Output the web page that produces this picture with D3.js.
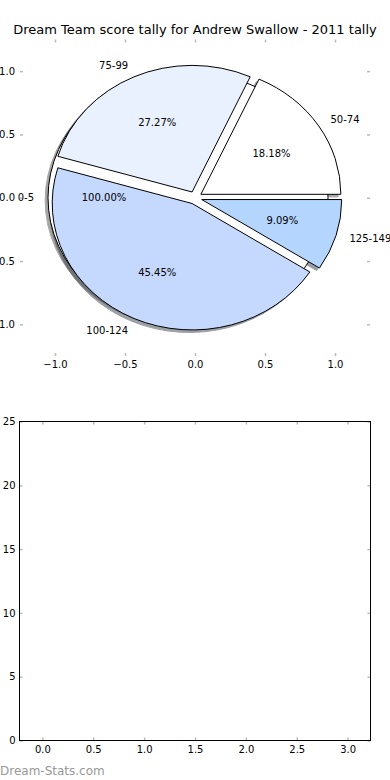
<!DOCTYPE html>
<html>
<head>
<meta charset="utf-8">
<script src="https://cdn.jsdelivr.net/npm/d3@7"></script>
<style>
  body { margin: 0; background: #fff; }
  svg { display: block; font-family: "DejaVu Sans", sans-serif; }
</style>
</head>
<body>
<div id="chart"></div>
<script>
// Chart data
var title = "Dream Team score tally for Andrew Swallow - 2011 tally";
var baseLabels = ["0-5"];
var baseValues = [1];
var rangeLabels = ["50-74", "75-99", "100-124", "125-149"];
var rangeCounts = [2, 3, 5, 1];
var pieTicks = [-1.0, -0.5, 0.0, 0.5, 1.0];
var barXTicks = [0.0, 0.5, 1.0, 1.5, 2.0, 2.5, 3.0];
var barYTicks = [0, 5, 10, 15, 20, 25];

// styles
var baseColors = ["#ffffff"];
var rangeColors = ["#ffffff", "#e9f1fe", "#c5d8fd", "#b4d5fe"];
var tickColor = "#bbbbbb";

var svgWidth = 390;
var svgHeight = 780;

var svg = d3.select("#chart")
  .append("svg")
  .attr("width", svgWidth)
  .attr("height", svgHeight);

// Top axes (pie)
var xTop = d3.scaleLinear().domain([-1.25, 1.25]).range([20, 370]);
var yTop = d3.scaleLinear().domain([-1.25, 1.25]).range([356, 39.5]);
var sx = xTop(1) - xTop(0);
var sy = yTop(0) - yTop(1);

svg.append("text")
  .attr("x", 195)
  .attr("y", 34)
  .attr("text-anchor", "middle")
  .attr("font-size", 13)
  .attr("fill", "#000")
  .text(title);

function styleAxis(g) {
  g.select(".domain").remove();
  g.selectAll(".tick line").attr("stroke", tickColor).attr("stroke-width", 1.5);
  g.selectAll(".tick text").attr("fill", "#000");
  g.attr("font-family", "DejaVu Sans").attr("font-size", 10);
}

var fmt = d3.format(".1f");

svg.append("g")
  .attr("transform", "translate(0," + yTop(-1.25) + ")")
  .call(d3.axisBottom(xTop).tickValues(pieTicks).tickFormat(fmt).tickSizeInner(-3).tickSizeOuter(0).tickPadding(5))
  .call(styleAxis);
svg.append("g")
  .attr("transform", "translate(0," + yTop(1.25) + ")")
  .call(d3.axisTop(xTop).tickValues(pieTicks).tickFormat("").tickSizeInner(-3).tickSizeOuter(0))
  .call(styleAxis);
svg.append("g")
  .attr("transform", "translate(" + xTop(-1.25) + ",0)")
  .call(d3.axisLeft(yTop).tickValues(pieTicks).tickFormat(fmt).tickSizeInner(-3).tickSizeOuter(0).tickPadding(5))
  .call(styleAxis);
svg.append("g")
  .attr("transform", "translate(" + xTop(1.25) + ",0)")
  .call(d3.axisRight(yTop).tickValues(pieTicks).tickFormat("").tickSizeInner(-3).tickSizeOuter(0))
  .call(styleAxis);

// Pie layers
var shadowLayer = svg.append("g");
var wedgeLayer = svg.append("g");
var textLayer = svg.append("g").attr("font-size", 10).attr("fill", "#000");

var explode = 0.05;
var shadowOff = -0.02;
var pctFmt = d3.format(".2f");

var pie = d3.pie().sort(null)
  .startAngle(Math.PI / 2)
  .endAngle(Math.PI / 2 - 2 * Math.PI);
var arc = d3.arc().innerRadius(0).outerRadius(1);

function shade(c) {
  var rgb = d3.rgb(c);
  return d3.rgb(rgb.r * 0.3, rgb.g * 0.3, rgb.b * 0.3).toString();
}

function layout(labels, values, colors) {
  var total = d3.sum(values);
  return pie(values).map(function(a, i) {
    var theta = Math.PI / 2 - (a.startAngle + a.endAngle) / 2;
    return {
      arc: a,
      label: labels[i],
      pct: pctFmt(100 * values[i] / total) + "%",
      color: colors[i],
      theta: theta,
      cx: explode * Math.cos(theta),
      cy: explode * Math.sin(theta)
    };
  });
}

var basePie = layout(baseLabels, baseValues, baseColors);
var rangePie = layout(rangeLabels, rangeCounts, rangeColors);
var allSlices = basePie.concat(rangePie);

shadowLayer.selectAll("path")
  .data(allSlices)
  .enter()
  .append("path")
  .attr("transform", d => `translate(${xTop(d.cx + shadowOff)},${yTop(d.cy + shadowOff)}) scale(${sx},${sy})`)
  .attr("d", d => arc(d.arc))
  .attr("fill", d => shade(d.color))
  .attr("stroke", d => shade(d.color))
  .attr("vector-effect", "non-scaling-stroke")
  .attr("opacity", 0.5);

wedgeLayer.selectAll("path")
  .data(allSlices)
  .enter()
  .append("path")
  .attr("transform", d => `translate(${xTop(d.cx)},${yTop(d.cy)}) scale(${sx},${sy})`)
  .attr("d", d => arc(d.arc))
  .attr("fill", d => d.color)
  .attr("stroke", "#000")
  .attr("stroke-width", 1)
  .attr("vector-effect", "non-scaling-stroke");

// Slice labels
textLayer.selectAll(".lbl")
  .data(allSlices)
  .enter()
  .append("text")
  .attr("class", "lbl")
  .attr("x", d => xTop(d.cx + 1.1 * Math.cos(d.theta)))
  .attr("y", d => yTop(d.cy + 1.1 * Math.sin(d.theta)))
  .attr("dy", "0.35em")
  .attr("text-anchor", d => (d.cx + 1.1 * Math.cos(d.theta)) > 0 ? "start" : "end")
  .text(d => d.label);

textLayer.selectAll(".pct")
  .data(allSlices)
  .enter()
  .append("text")
  .attr("class", "pct")
  .attr("x", d => xTop(d.cx + 0.6 * Math.cos(d.theta)))
  .attr("y", d => yTop(d.cy + 0.6 * Math.sin(d.theta)))
  .attr("dy", "0.35em")
  .attr("text-anchor", "middle")
  .text(d => d.pct);

// Bottom axes (empty chart)
var xBot = d3.scaleLinear().domain([-0.225, 3.225]).range([19.5, 370.5]);
var yBot = d3.scaleLinear().domain([0, 25]).range([740.5, 421.5]);

svg.append("g")
  .attr("transform", "translate(0,740.5)")
  .call(d3.axisBottom(xBot).tickValues(barXTicks).tickFormat(fmt).tickSizeInner(-3).tickSizeOuter(0).tickPadding(5))
  .call(styleAxis);
svg.append("g")
  .attr("transform", "translate(0,421.5)")
  .call(d3.axisTop(xBot).tickValues(barXTicks).tickFormat("").tickSizeInner(-3).tickSizeOuter(0))
  .call(styleAxis);
svg.append("g")
  .attr("transform", "translate(19.5,0)")
  .call(d3.axisLeft(yBot).tickValues(barYTicks).tickFormat(d3.format("d")).tickSizeInner(-3).tickSizeOuter(0).tickPadding(4))
  .call(styleAxis);
svg.append("g")
  .attr("transform", "translate(370.5,0)")
  .call(d3.axisRight(yBot).tickValues(barYTicks).tickFormat("").tickSizeInner(-3).tickSizeOuter(0))
  .call(styleAxis);

svg.append("rect")
  .attr("x", xBot.range()[0])
  .attr("y", yBot.range()[1])
  .attr("width", xBot.range()[1] - xBot.range()[0])
  .attr("height", yBot.range()[0] - yBot.range()[1])
  .attr("fill", "none")
  .attr("stroke", "#000")
  .attr("stroke-width", 1);

// Watermark
svg.append("text")
  .attr("x", 0)
  .attr("y", 775)
  .attr("font-size", 12)
  .attr("fill", "#999")
  .text("Dream-Stats.com");
</script>
</body>
</html>
